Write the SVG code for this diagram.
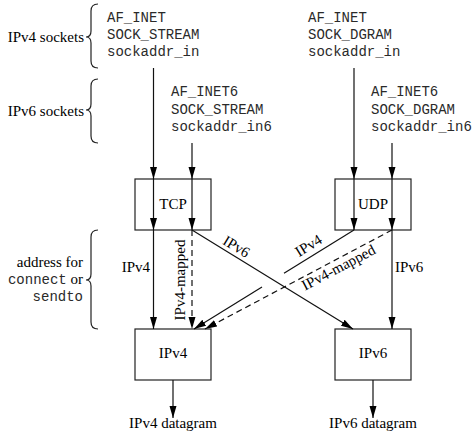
<svg xmlns="http://www.w3.org/2000/svg" width="476" height="438" viewBox="0 0 476 438">
<style>
.serif{font-family:"Liberation Serif","Times New Roman",serif;font-size:15px;fill:#000}
.mono{font-family:"Liberation Mono","Courier New",monospace;font-size:14px;fill:#2a2a2a}
.box{fill:none;stroke:#222;stroke-width:1.2}
.ln{stroke:#111;stroke-width:1.2;fill:none}
.dash{stroke:#111;stroke-width:1.2;fill:none;stroke-dasharray:6,4}
.brace{stroke:#222;stroke-width:1.2;fill:none}
</style>
<defs>
<marker id="ah" markerUnits="userSpaceOnUse" markerWidth="12" markerHeight="8" refX="12" refY="3.5" orient="auto">
<path d="M0,0 L12,3.5 L0,7 z" fill="#000"/>
</marker>
</defs>
<rect width="476" height="438" fill="#fff"/>

<g id="sockets-labels">
<text class="serif" x="84" y="41.5" text-anchor="end">IPv4 sockets</text>
<path class="brace" d="M98,4 Q91,4 91,11 L91,31 Q91,37 86,37 Q91,37 91,43 L91,61 Q91,68 98,68"/>
<text class="serif" x="84" y="116" text-anchor="end">IPv6 sockets</text>
<path class="brace" d="M98,79 Q91,79 91,86 L91,104 Q91,110 86,110 Q91,110 91,116 L91,136 Q91,143 98,143"/>
<text class="serif" x="83" y="267" text-anchor="end">address for</text>
<text class="serif" x="83" y="284" text-anchor="end"><tspan class="mono">connect</tspan> or</text>
<text class="mono" x="83" y="301" text-anchor="end">sendto</text>
<path class="brace" d="M98,230 Q91,230 91,237 L91,274 Q91,280 86,280 Q91,280 91,286 L91,322 Q91,329 98,329"/>
</g>

<g id="ipv4-tcp-socket">
<text class="mono" x="107" y="21.5">AF_INET</text>
<text class="mono" x="107" y="38.5">SOCK_STREAM</text>
<text class="mono" x="107" y="55.5">sockaddr_in</text>
</g>
<g id="ipv4-udp-socket">
<text class="mono" x="308" y="21.5">AF_INET</text>
<text class="mono" x="308" y="38.5">SOCK_DGRAM</text>
<text class="mono" x="308" y="55.5">sockaddr_in</text>
</g>
<g id="ipv6-tcp-socket">
<text class="mono" x="171" y="96">AF_INET6</text>
<text class="mono" x="171" y="113.5">SOCK_STREAM</text>
<text class="mono" x="171" y="131">sockaddr_in6</text>
</g>
<g id="ipv6-udp-socket">
<text class="mono" x="371" y="96">AF_INET6</text>
<text class="mono" x="371" y="113.5">SOCK_DGRAM</text>
<text class="mono" x="371" y="131">sockaddr_in6</text>
</g>

<g id="tcp">
<rect class="box" x="135" y="179" width="76" height="51"/>
<text class="serif" x="173" y="208.5" text-anchor="middle">TCP</text>
</g>
<g id="udp">
<rect class="box" x="335" y="179" width="76" height="51"/>
<text class="serif" x="373" y="208.5" text-anchor="middle">UDP</text>
</g>
<g id="ipv4">
<rect class="box" x="135" y="329" width="76" height="51"/>
<text class="serif" x="173" y="358" text-anchor="middle">IPv4</text>
</g>
<g id="ipv6">
<rect class="box" x="335" y="329" width="76" height="51"/>
<text class="serif" x="373" y="358" text-anchor="middle">IPv6</text>
</g>
<g id="datagrams">
<text class="serif" x="173" y="427.5" text-anchor="middle">IPv4 datagram</text>
<text class="serif" x="373" y="427.5" text-anchor="middle">IPv6 datagram</text>
</g>

<g id="connectors">
<line class="ln" x1="153.5" y1="68" x2="153.5" y2="179" marker-end="url(#ah)"/>
<line class="ln" x1="153.5" y1="179" x2="153.5" y2="230" marker-end="url(#ah)"/>
<line class="ln" x1="153.5" y1="230" x2="153.5" y2="329" marker-end="url(#ah)"/>
<line class="ln" x1="192" y1="143" x2="192" y2="179" marker-end="url(#ah)"/>
<line class="ln" x1="192" y1="179" x2="192" y2="230" marker-end="url(#ah)"/>
<line class="dash" x1="192" y1="230" x2="192" y2="329" marker-end="url(#ah)"/>
<line class="ln" x1="192" y1="230" x2="353" y2="329" marker-end="url(#ah)"/>
<line class="ln" x1="354" y1="68" x2="354" y2="179" marker-end="url(#ah)"/>
<line class="ln" x1="354" y1="179" x2="354" y2="230" marker-end="url(#ah)"/>
<line class="ln" x1="354" y1="230" x2="284" y2="273.3"/>
<line class="ln" x1="262" y1="287" x2="194" y2="329" marker-end="url(#ah)"/>
<line class="ln" x1="392" y1="143" x2="392" y2="179" marker-end="url(#ah)"/>
<line class="ln" x1="392" y1="179" x2="392" y2="230" marker-end="url(#ah)"/>
<line class="ln" x1="392" y1="230" x2="392" y2="329" marker-end="url(#ah)"/>
<line class="dash" x1="392" y1="230" x2="205" y2="329" marker-end="url(#ah)"/>
<line class="ln" x1="173" y1="380" x2="173" y2="418" stroke-width="1.5" marker-end="url(#ah)"/>
<line class="ln" x1="373" y1="380" x2="373" y2="418" marker-end="url(#ah)"/>
<text class="serif" x="150" y="272" text-anchor="end">IPv4</text>
<text class="serif" x="395" y="272">IPv6</text>
<text class="serif" text-anchor="middle" transform="translate(179.5,280) rotate(-90)" y="5">IPv4-mapped</text>
<text class="serif" text-anchor="middle" transform="translate(236.5,246.5) rotate(31.4)" y="5">IPv6</text>
<text class="serif" text-anchor="middle" transform="translate(308.5,245.5) rotate(-31.5)" y="5">IPv4</text>
<text class="serif" text-anchor="middle" transform="translate(338.5,267.5) rotate(-27.8)" y="5">IPv4-mapped</text>
</g>
</svg>
